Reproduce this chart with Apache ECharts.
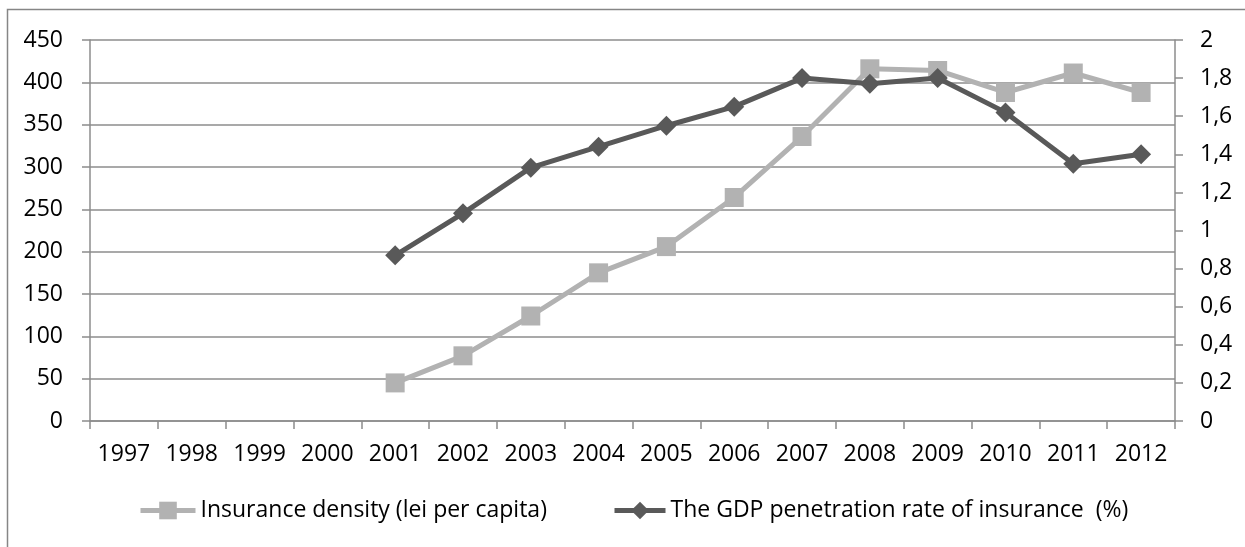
<!DOCTYPE html>
<html>
<head>
<meta charset="utf-8">
<script src="https://cdn.jsdelivr.net/npm/echarts@6/dist/echarts.min.js"></script>
<style>
html,body{margin:0;padding:0;background:#fff;}
#c{width:1245px;height:547px;}
</style>
</head>
<body>
<div id="c"></div>
<script>
var years = ['1997','1998','1999','2000','2001','2002','2003','2004','2005','2006','2007','2008','2009','2010','2011','2012'];
var densityName = 'Insurance density (lei per capita)';
var penetrationName = 'The GDP penetration rate of insurance  (%)';
var density = [null,null,null,null,45,77,124,175,206,264,336,416,414,388,411,388];
var penetration = [null,null,null,null,0.87,1.09,1.33,1.44,1.55,1.65,1.80,1.77,1.80,1.62,1.35,1.40];

var FONT = 'Open Sans';
var FS = 23;
var grid = '#8c8c8c';
var chart = echarts.init(document.getElementById('c'), null, {renderer:'canvas'});
chart.setOption({
  animation:false,
  backgroundColor:'#fff',
  textStyle:{fontFamily:FONT},
  graphic:[{type:'rect',shape:{x:7.5,y:9.5,width:1300,height:700},style:{fill:null,stroke:'#868686',lineWidth:1.5},silent:true,z:-1}],
  grid:{left:90,right:70,top:40,bottom:126,containLabel:false},
  xAxis:{
    type:'category',data:years,boundaryGap:true,
    axisLine:{lineStyle:{color:grid,width:1.5}},
    axisTick:{show:true,length:8,lineStyle:{color:grid,width:1.5},alignWithLabel:false},
    axisLabel:{color:'#000',fontSize:FS,fontFamily:FONT,margin:22,interval:0}
  },
  yAxis:[{
    type:'value',min:0,max:450,interval:50,position:'left',
    axisLine:{show:true,lineStyle:{color:grid,width:1.5}},
    axisTick:{show:true,length:8,lineStyle:{color:grid,width:1.5}},
    splitLine:{show:true,lineStyle:{color:grid,width:1.5}},
    axisLabel:{color:'#000',fontSize:FS,fontFamily:FONT,margin:27}
  },{
    type:'value',min:0,max:2,interval:0.2,position:'right',
    axisLine:{show:true,lineStyle:{color:grid,width:1.5}},
    axisTick:{show:true,length:8,lineStyle:{color:grid,width:1.5}},
    splitLine:{show:false},
    axisLabel:{color:'#000',fontSize:FS,fontFamily:FONT,margin:25,
      formatter:function(v){return String(Math.round(v*10)/10).replace('.',',');}}
  }],
  legend:[{
    left:133,top:494,itemWidth:55,itemHeight:22,itemGap:0,
    lineStyle:{width:5},
    textStyle:{color:'#000',fontSize:FS,fontFamily:FONT,padding:[0,0,0,0]},
    data:[{name:densityName}]
  },{
    left:607,top:494,itemWidth:51,itemHeight:22,itemGap:0,
    lineStyle:{width:5},
    textStyle:{color:'#000',fontSize:FS,fontFamily:FONT,padding:[0,0,0,0]},
    data:[{name:penetrationName}]
  }],
  series:[{
    name:densityName,type:'line',yAxisIndex:0,data:density,
    symbol:'rect',symbolSize:19,
    lineStyle:{color:'#b2b2b2',width:5},
    itemStyle:{color:'#b2b2b2'},z:2
  },{
    name:penetrationName,type:'line',yAxisIndex:1,data:penetration,
    symbol:'diamond',symbolSize:20,
    lineStyle:{color:'#595959',width:5},
    itemStyle:{color:'#595959'},z:3
  }]
});
</script>
</body>
</html>
